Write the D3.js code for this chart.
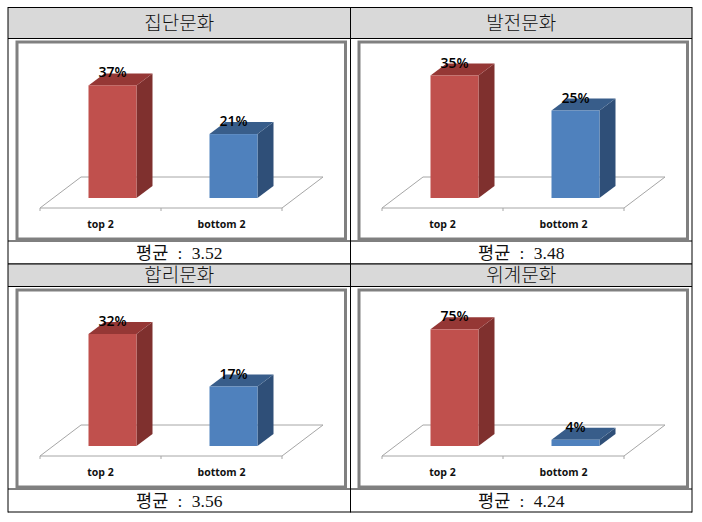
<!DOCTYPE html>
<html lang="ko">
<head>
<meta charset="UTF-8">
<script src="https://cdn.jsdelivr.net/npm/d3@7"></script>
<style>
  html, body { margin: 0; padding: 0; background: #fff; }
  svg { display: block; }
  .head { font-family: "Noto Sans CJK KR"; font-size: 19px; font-weight: 300; fill: #111; }
  .cap { font-family: "Liberation Serif", "Noto Sans CJK KR"; font-size: 17.5px; fill: #111; word-spacing: 5px; }
  .pct { font-family: "Open Sans"; font-size: 14px; font-weight: 600; fill: #000; }
  .tick text { font-family: "Open Sans"; font-size: 10.5px; font-weight: 700; fill: #111; }
</style>
</head>
<body>
<script>
// values
const titles = ["집단문화", "발전문화", "합리문화", "위계문화"];
const averages = ["3.52", "3.48", "3.56", "4.24"];
const categories = ["top 2", "bottom 2"];
const topValues = [37, 35, 32, 75];
const bottomValues = [21, 25, 17, 4];
const axisMax = [46, 40, 40, 90]; // each small chart has its own scale

const frontColors = ["#c0504d", "#4f81bd"];
const topColors = ["#953735", "#385d8a"];
const sideColors = ["#7f302e", "#2f4f78"];

const svg = d3.select("body").append("svg").attr("width", 702).attr("height", 522);

// table
const colX = [8, 350.5, 692];
const rows = [
  { head: 7.5, chart: 38.5, cap: 241, end: 264 },
  { head: 264, chart: 286.5, cap: 489, end: 512 }
];

rows.forEach((r, ri) => {
  [0, 1].forEach(ci => {
    const x0 = colX[ci], x1 = colX[ci + 1], mid = (x0 + x1) / 2;
    svg.append("rect").attr("x", x0).attr("y", r.head).attr("width", x1 - x0).attr("height", r.chart - r.head)
      .attr("fill", "#d9d9d9");
    svg.append("text").attr("class", "head").attr("x", mid).attr("y", (r.head + r.chart) / 2 + 7)
      .attr("text-anchor", "middle").text(titles[ri * 2 + ci]);
    svg.append("text").attr("class", "cap").attr("x", mid).attr("y", r.end - 5.5)
      .attr("text-anchor", "middle").text("평균 : " + averages[ri * 2 + ci]);
  });
  [r.head, r.chart, r.cap, r.end].forEach(y => {
    svg.append("line").attr("x1", colX[0]).attr("x2", colX[2]).attr("y1", y).attr("y2", y)
      .attr("stroke", "#000").attr("stroke-width", 1);
  });
});
colX.forEach(x => {
  svg.append("line").attr("x1", x).attr("x2", x).attr("y1", 7).attr("y2", 512.5)
    .attr("stroke", "#000").attr("stroke-width", 1);
});

// 3d offset of the bars and the floor
const depthX = 16, depthY = 12;
const plotH = 140;

function drawChart(i) {
  const dx = i % 2 ? 342 : 0;
  const dy = i > 1 ? 248 : 0;
  const g = svg.append("g").attr("transform", `translate(${dx},${dy})`);

  g.append("rect").attr("x", 17).attr("y", 42).attr("width", 328.5).attr("height", 197)
    .attr("fill", "#fff").attr("stroke", "#808080").attr("stroke-width", 3);

  const x = d3.scaleBand().domain(categories).range([40, 282]);
  const y = d3.scaleLinear().domain([0, axisMax[i]]).range([198, 198 - plotH]);

  // floor
  const floorY = 208, backY = 177, slant = 41;
  g.append("path")
    .attr("d", d3.line()([[x.range()[0], floorY], [x.range()[0] + slant, backY], [x.range()[1] + slant, backY], [x.range()[1], floorY]]) + "Z")
    .attr("fill", "#fff").attr("stroke", "#a6a6a6").attr("stroke-width", 1);
  [x.range()[0], x(categories[1]), x.range()[1]].forEach(t => {
    g.append("line").attr("x1", t).attr("x2", t).attr("y1", floorY).attr("y2", floorY + 3).attr("stroke", "#a6a6a6");
  });

  const axis = g.append("g").attr("transform", `translate(0,${floorY + 10})`)
    .call(d3.axisBottom(x).tickSize(0).tickPadding(3));
  axis.select(".domain").remove();

  const barW = 48;
  [topValues[i], bottomValues[i]].forEach((v, k) => {
    const cx = x(categories[k]) + x.bandwidth() / 2 + 12;
    const l = cx - barW / 2, r = cx + barW / 2, t = y(v), b = y(0);
    const line = d3.line();
    g.append("path").attr("fill", sideColors[k])
      .attr("d", line([[r, t], [r + depthX, t - depthY], [r + depthX, b - depthY], [r, b]]) + "Z");
    g.append("path").attr("fill", topColors[k])
      .attr("d", line([[l, t], [l + depthX, t - depthY], [r + depthX, t - depthY], [r, t]]) + "Z");
    g.append("rect").attr("x", l).attr("y", t).attr("width", barW).attr("height", b - t)
      .attr("fill", frontColors[k]);
    g.append("text").attr("class", "pct").attr("x", cx).attr("y", t - 8)
      .attr("text-anchor", "middle").text(v + "%");
  });
}

titles.forEach((d, i) => drawChart(i));
</script>
</body>
</html>
